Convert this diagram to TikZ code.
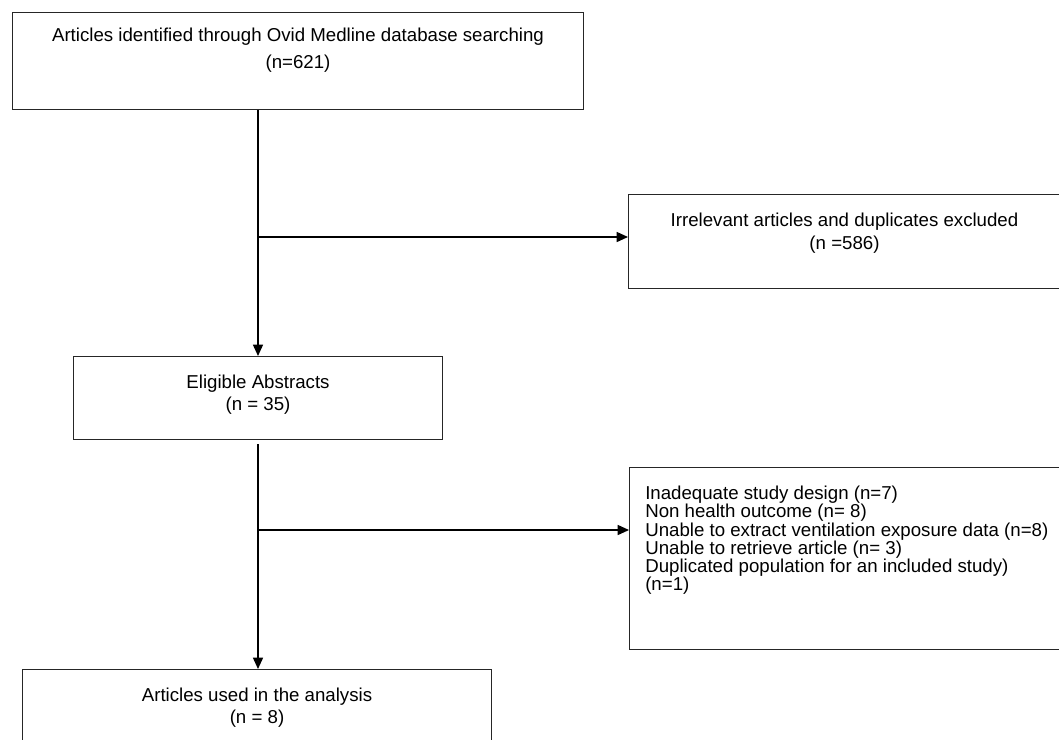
\documentclass[tikz,border=0pt]{standalone}
\usepackage{fontspec}
\setmainfont{Liberation Sans}
\usetikzlibrary{arrows.meta,positioning,calc}

\begin{document}
\begin{tikzpicture}[
  x=0.75pt,y=-0.75pt,
  font=\fontsize{14pt}{16.1pt}\selectfont,
  frame/.style={draw=black!85,line width=0.75pt,inner sep=0pt,anchor=north west},
  txt/.style={align=center,inner sep=0pt,anchor=north},
  arr/.style={-{Triangle[length=8.5pt,width=7.5pt]},line width=1.1pt,draw=black}
]
\path[use as bounding box,clip] (0,0) rectangle (1059,739);
% ---------------- boxes ----------------
\node[frame,minimum width=428.25pt,minimum height=72.75pt] (ident) at (12,12) {};
\node[txt,below=12pt of ident.north] (identtxt)
  {Articles identified through Ovid Medline database searching\\[4.15pt](n=621)};
\node[frame,minimum width=324pt,minimum height=70.5pt] (excl1) at (628,194) {};
\node[txt,below=14.25pt of excl1.north] (excl1txt)
  {Irrelevant articles and duplicates excluded\\[1.15pt](n =586)};
\node[frame,minimum width=276.75pt,minimum height=62.25pt] (eligible) at (73,356) {};
\node[txt,below=14.25pt of eligible.north] (eligibletxt)
  {Eligible Abstracts\\[0.4pt](n = 35)};
\node[frame,minimum width=323.25pt,minimum height=136.5pt] (excl2) at (629,467) {};
\node[inner sep=0pt,align=left,font=\fontsize{14pt}{13.6pt}\selectfont,
      below right=14.25pt and 12pt of excl2.north west] (excl2txt)
  {Inadequate study design (n=7)\\
   Non health outcome (n= 8)\\
   Unable to extract ventilation exposure data (n=8)\\
   Unable to retrieve article (n= 3)\\
   Duplicated population for an included study)\\
   (n=1)};
\node[frame,minimum width=351.75pt,minimum height=60pt] (used) at (22,669) {};
\node[txt,below=14.25pt of used.north] (usedtxt)
  {Articles used in the analysis\\[0.4pt](n = 8)};
% ---------------- connectors ----------------
\coordinate (hit1) at ($(excl1.north west)+(0,43)$);
\coordinate (hit2) at ($(excl2.north west)+(0,63)$);
\draw[arr] (eligible.north |- ident.south) -- (eligible.north);
\draw[arr] (eligible.north |- hit1) -- (hit1);
\draw[arr] ([yshift=-3pt]eligible.south) -- (eligible.south |- used.north);
\draw[arr] (eligible.south |- hit2) -- (hit2);
\end{tikzpicture}
\end{document}
